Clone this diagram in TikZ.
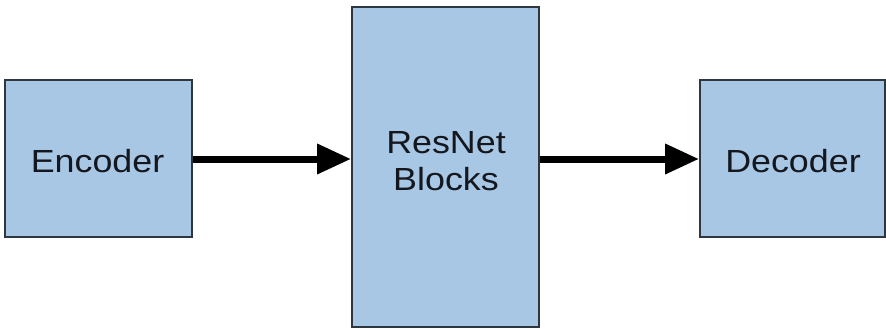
\documentclass[tikz,border=0pt]{standalone}
\usepackage{fontspec}
\setmainfont{Liberation Sans}
\usetikzlibrary{arrows.meta}
\definecolor{boxfill}{HTML}{A8C7E5}
\definecolor{boxline}{HTML}{2E3640}
\definecolor{ink}{HTML}{14181E}
\tikzset{
  block/.style={draw=boxline, line width=2pt, fill=boxfill, inner sep=0pt},
  caption/.style={font=\fontsize{32}{37}\selectfont, align=center, text=ink, inner sep=0pt},
  flow/.style={line width=7pt, -{Triangle[length=34pt,width=29pt]}}
}
\newcommand{\wide}[1]{\scalebox{1.12}[1]{#1}}
\begin{document}
\begin{tikzpicture}[x=1pt,y=-1pt]
  \useasboundingbox[fill=white] (0,0) rectangle (886,329);
  % boxes
  \node[block, minimum width=187pt, minimum height=157pt] (enc) at (98.5,158.5) {};
  \node[block, minimum width=187pt, minimum height=320pt] (res) at (445.5,167) {};
  \node[block, minimum width=185pt, minimum height=157pt] (dec) at (792.5,158.5) {};
  % box captions
  \node[caption] (enctext) at (97.5,161) {\wide{Encoder}};
  \node[caption] (restext) at (446,161) {\wide{ResNet}\\\wide{Blocks}};
  \node[caption] (dectext) at (793,161) {\wide{Decoder}};
  % data flow
  \draw[flow] (enc.east |- 0,159) -- (res.west |- 0,159);
  \draw[flow] (res.east |- 0,159) -- (dec.west |- 0,159);
\end{tikzpicture}
\end{document}
